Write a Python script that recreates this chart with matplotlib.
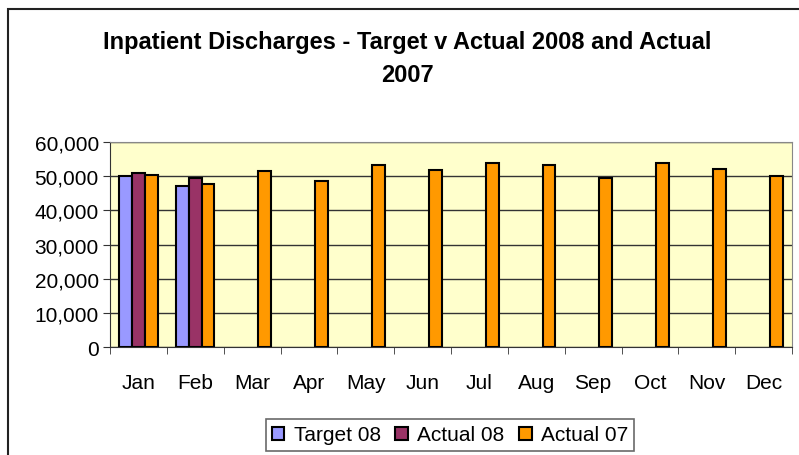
import numpy as np
from matplotlib import pyplot as plt
from matplotlib import ticker, patches

plt.rcParams['font.family'] = ['Liberation Sans', 'DejaVu Sans']

months = ['Jan', 'Feb', 'Mar', 'Apr', 'May', 'Jun', 'Jul', 'Aug', 'Sep', 'Oct', 'Nov', 'Dec']
target_08 = [50000, 47200] + [np.nan] * 10
actual_08 = [51000, 49500] + [np.nan] * 10
actual_07 = [50400, 47600, 51500, 48600, 53300, 51900, 54000, 53300, 49500, 54000, 52000, 50000]

fig = plt.figure(figsize=(7.99, 4.56), dpi=100)
ax = fig.add_axes([110/799, 1-348/456, 682/799, 205/456])

# outer chart border
fig.patches.append(patches.Rectangle((8/799, -0.1), 1.2, 1-10/456+0.1, transform=fig.transFigure,
                                     fill=False, edgecolor='#222222', linewidth=1.5))

x = np.arange(len(months))
w = 0.225
series = [('Target 08', target_08, '#9999FF'),
          ('Actual 08', actual_08, '#993366'),
          ('Actual 07', actual_07, '#FF9900')]
for i, (lab, vals, col) in enumerate(series):
    ax.bar(x + (i-1)*w, vals, w, color=col, edgecolor='black', linewidth=1.5, label=lab, zorder=3)

ax.set_facecolor('#FFFFCC')
ax.set_xlim(-0.5, 11.5)
ax.set_ylim(0, 60000)
ax.yaxis.set_major_locator(ticker.MultipleLocator(10000))
ax.yaxis.set_major_formatter(ticker.FuncFormatter(lambda v, p: f'{int(v):,}'))
ax.grid(True, axis='y', color='#333333', linewidth=1, zorder=1)
ax.set_axisbelow(True)

ax.set_xticks(x)
ax.set_xticklabels(months)
ax.xaxis.set_minor_locator(ticker.FixedLocator(np.arange(-0.5, 12, 1)))
ax.tick_params(axis='x', which='major', length=0, pad=19, labelsize=15)
ax.tick_params(axis='x', which='minor', length=5, direction='out', color='#333333')
ax.tick_params(axis='y', length=5, direction='out', color='#333333', labelsize=15, pad=3)

for s in ['top', 'right']:
    ax.spines[s].set_color('#888888')
for s in ['left', 'bottom']:
    ax.spines[s].set_color('#333333')

fig.text(0.51, 1-59/456, 'Inpatient Discharges - Target v Actual 2008 and Actual\n2007',
         ha='center', va='center', fontsize=17, fontweight='bold', linespacing=1.55)

leg = fig.legend(loc='center', bbox_to_anchor=(450/799, 1-436/456), ncol=3, frameon=True,
                 fancybox=False, edgecolor='#444444', fontsize=15, handlelength=0.6,
                 handleheight=0.6, handletextpad=0.45, columnspacing=0.7, borderpad=0.3)
leg.get_frame().set_linewidth(1.2)

fig.savefig('out.png', dpi=100)
